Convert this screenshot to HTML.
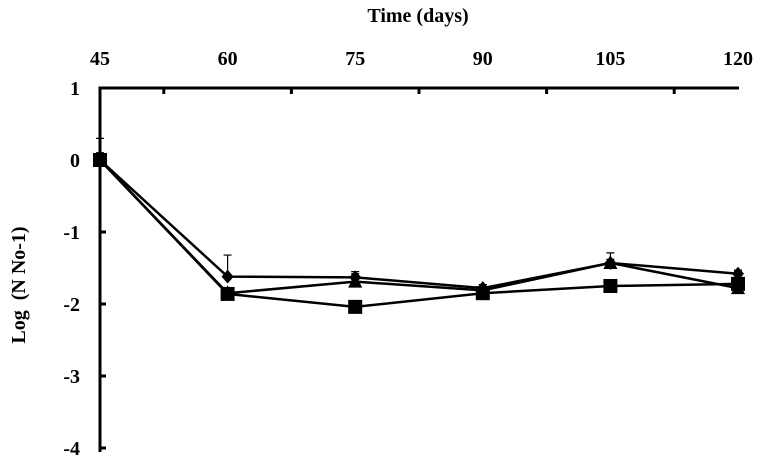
<!DOCTYPE html>
<html><head><meta charset="utf-8"><style>
html,body{margin:0;padding:0;background:#fff;}
svg{display:block;font-family:"Liberation Serif",serif;font-weight:bold;}
</style></head><body>
<svg id="chart" width="759" height="461" viewBox="0 0 759 461" xmlns="http://www.w3.org/2000/svg">
<text x="418" y="22" font-size="20" text-anchor="middle">Time (days)</text>
<text transform="translate(25,285) rotate(-90)" font-size="20" text-anchor="middle" xml:space="preserve">Log  (N No-1)</text>
<g id="axes"></g>
<g id="series"></g>
</svg>
<script>
const days = [45, 60, 75, 90, 105, 120];
const yTicks = [1, 0, -1, -2, -3, -4];
const diamondVals = [0, -1.62, -1.63, -1.78, -1.43, -1.58];
const triangleVals = [0, -1.85, -1.69, -1.81, -1.43, -1.78];
const squareVals = [0, -1.86, -2.04, -1.85, -1.75, -1.72];
const diamondErr = [0.3, 0.3, 0.05, 0.05, 0.05, 0.05];
const triangleErr = [0.1, 0.05, 0.14, 0.05, 0.14, 0.06];
const squareErr = [0.1, 0.05, 0.05, 0.05, 0.05, 0.05];

const NS = "http://www.w3.org/2000/svg";
function xs(d){ return 100 + (d - 45) / 75 * 638; }
function ys(v){ return 88 + (1 - v) * 72; }
function mk(tag, attrs, parent){
  const e = document.createElementNS(NS, tag);
  for (const k in attrs) e.setAttribute(k, attrs[k]);
  parent.appendChild(e); return e;
}
const axes = document.getElementById('axes');
const ser = document.getElementById('series');
const xa = mk('line', {x1: xs(45), y1: ys(1), x2: xs(120) + 1, y2: ys(1), stroke: '#000', 'stroke-width': 3}, axes);


const ya = mk('line', {x1: xs(45), y1: ys(1) - 1.5, x2: xs(45), y2: ys(-4) + 4, stroke: '#000', 'stroke-width': 3}, axes);


days.forEach((d, i) => {
  const t = mk('text', {x: xs(d), y: 65, 'font-size': 20, 'text-anchor': 'middle'}, axes);
  t.textContent = d;
  
  
  if (i < days.length - 1) {
    const m = (d + days[i + 1]) / 2;
    const tk = mk('line', {x1: xs(m), y1: ys(1), x2: xs(m), y2: ys(1) + 6, stroke: '#000', 'stroke-width': 3}, axes);
    
    
  }
});
yTicks.forEach(v => {
  const t = mk('text', {x: 80, y: ys(v) + 7, 'font-size': 20, 'text-anchor': 'end'}, axes);
  t.textContent = v;
  
  
  const tk = mk('line', {x1: xs(45), y1: ys(v), x2: xs(45) + 6, y2: ys(v), stroke: '#000', 'stroke-width': 3}, axes);
  
  
});
function drawSeries(vals, errs, shape, name){
  const g = mk('g', {}, ser);
  
  
  vals.forEach((v, i) => {
    const x = xs(days[i]), y = ys(v), ye = ys(v + errs[i]);
    const eb = mk('path', {d: `M${x},${y}V${ye}M${x-4},${ye}H${x+4}`, stroke: '#000', 'stroke-width': 1.2, fill: 'none'}, g);
    
    
  });
  const pl = mk('polyline', {points: vals.map((v, i) => xs(days[i]) + ',' + ys(v)).join(' '), fill: 'none', stroke: '#000', 'stroke-width': 2.5}, g);
  
  
  vals.forEach((v, i) => {
    const x = xs(days[i]), y = ys(v);
    let m;
    if (shape === 'square') m = mk('rect', {x: x - 7, y: y - 7, width: 14, height: 14, fill: '#000'}, g);
    else if (shape === 'diamond') m = mk('path', {d: `M${x},${y-7}L${x+6},${y}L${x},${y+7}L${x-6},${y}Z`, fill: '#000'}, g);
    else m = mk('path', {d: `M${x},${y-8}L${x+7},${y+6}L${x-7},${y+6}Z`, fill: '#000'}, g);
    
    
  });
}
drawSeries(diamondVals, diamondErr, 'diamond', 'diamond-series');
drawSeries(triangleVals, triangleErr, 'triangle', 'triangle-series');
drawSeries(squareVals, squareErr, 'square', 'square-series');
</script>
</body></html>
